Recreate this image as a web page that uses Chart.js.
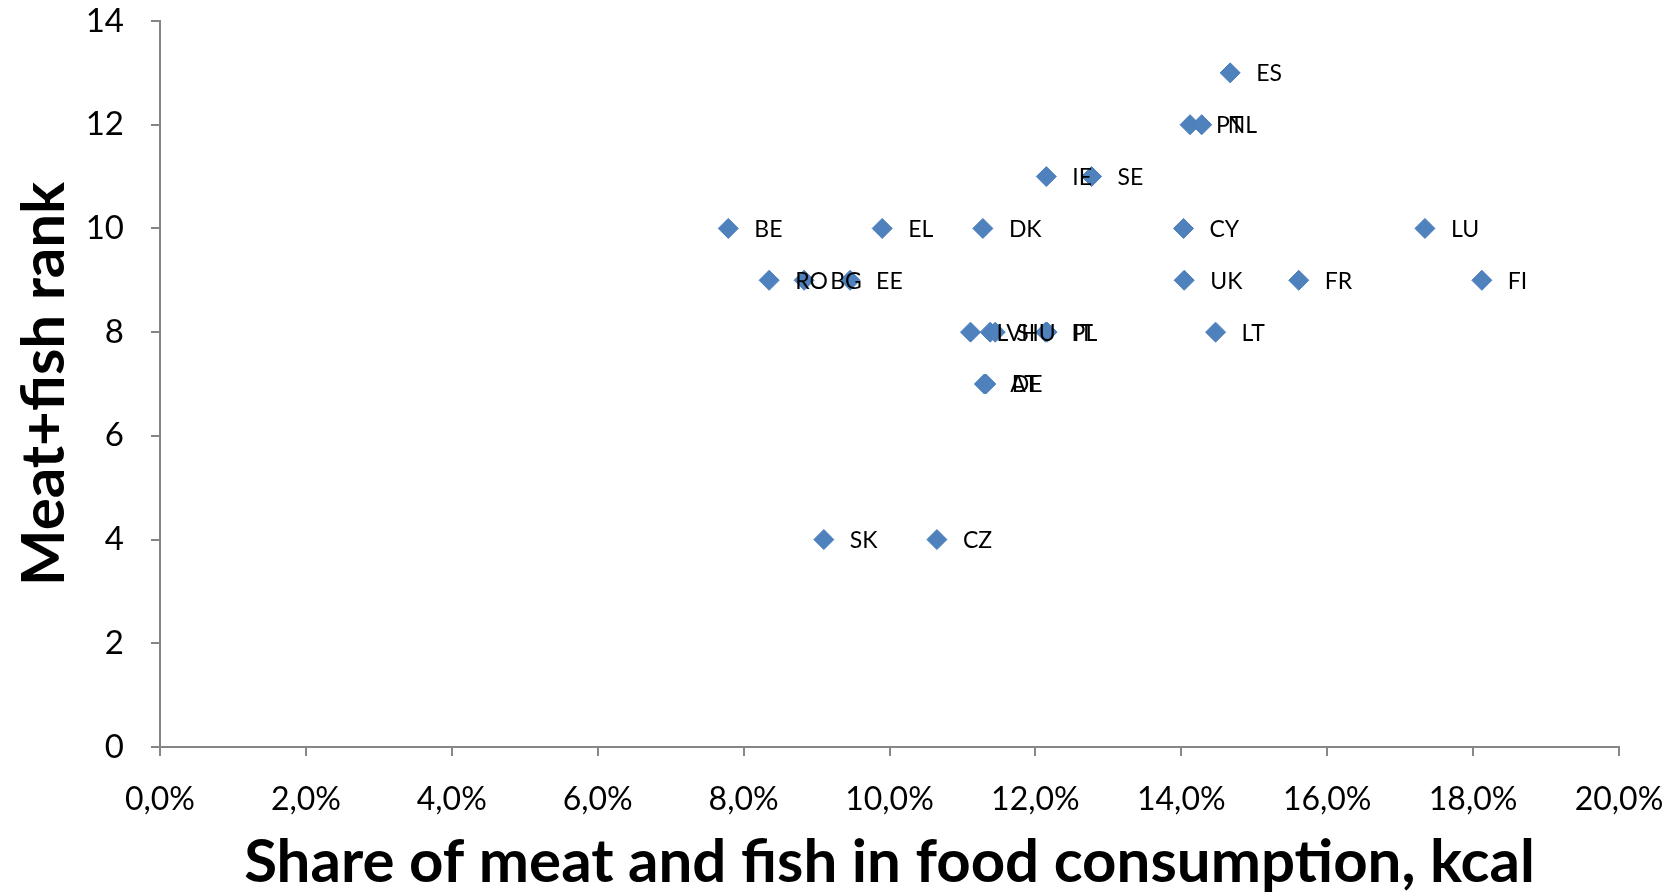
<!DOCTYPE html>
<html>
<head>
<meta charset="utf-8">
<script src="https://cdn.jsdelivr.net/npm/chart.js@4/dist/chart.umd.min.js"></script>
<style>
  html, body { margin: 0; padding: 0; background: #fff; }
  #wrap { width: 1679px; height: 896px; }
</style>
</head>
<body>
<div id="wrap"><canvas id="chart" width="1679" height="896"></canvas></div>
<script>
// Country codes, share of meat+fish in kcal (fraction) and rank
const countries = ['ES', 'PT', 'NL', 'IE', 'SE', 'BE', 'EL', 'DK', 'CY', 'LU',
  'RO', 'BG', 'EE', 'UK', 'FR', 'FI', 'LV', 'SI', 'HU', 'PL', 'IT', 'LT',
  'AT', 'DE', 'SK', 'CZ'];
const shares = [0.1467, 0.1412, 0.1428, 0.1215, 0.1277, 0.0779, 0.0990, 0.1128, 0.1403, 0.1734,
  0.0835, 0.0883, 0.0946, 0.1404, 0.1561, 0.1812, 0.1111, 0.1138, 0.1145, 0.1214, 0.1216, 0.1447,
  0.1130, 0.1132, 0.0910, 0.1065];
const ranks = [13, 12, 12, 11, 11, 10, 10, 10, 10, 10,
  9, 9, 9, 9, 9, 9, 8, 8, 8, 8, 8, 8,
  7, 7, 4, 4];

const xTicks = [0, 0.02, 0.04, 0.06, 0.08, 0.10, 0.12, 0.14, 0.16, 0.18, 0.20];

const AXIS_COLOR = '#868686';
const MARKER_COLOR = '#4F81BD';

// draws the country code to the right of each marker
const pointLabels = {
  id: 'pointLabels',
  afterDatasetsDraw(chart) {
    const ctx = chart.ctx;
    const meta = chart.getDatasetMeta(0);
    ctx.save();
    ctx.font = '23px Lato';
    ctx.fillStyle = '#000';
    ctx.textAlign = 'left';
    ctx.textBaseline = 'middle';
    meta.data.forEach(function (el, i) {
      ctx.fillText(countries[i], el.x + 26, el.y + 1);
    });
    ctx.restore();
  },
};

new Chart(document.getElementById('chart'), {
  type: 'scatter',
  data: {
    datasets: [{
      data: shares.map(function (s, i) { return { x: s, y: ranks[i] }; }),
      pointStyle: 'rectRot',
      pointRadius: 10,
      pointHoverRadius: 10,
      backgroundColor: MARKER_COLOR,
      borderColor: '#4A7EBB',
      borderWidth: 1,
    }],
  },
  plugins: [pointLabels],
  options: {
    responsive: false,
    animation: false,
    layout: { padding: { left: 0, right: 60, top: 21, bottom: 0 } },
    plugins: {
      legend: { display: false },
      tooltip: { enabled: false },
    },
    scales: {
      x: {
        type: 'linear',
        min: 0,
        max: 0.20,
        afterBuildTicks: function (scale) {
          scale.ticks = xTicks.map(function (v) { return { value: v }; });
        },
        afterFit: function (scale) {
          scale.height = 149;
          // label overflow is handled by the layout padding
          scale.paddingLeft = 0;
          scale.paddingRight = 0;
        },
        border: { color: AXIS_COLOR, width: 2 },
        grid: { drawOnChartArea: false, drawTicks: true, tickLength: 9, color: AXIS_COLOR, lineWidth: 2 },
        ticks: {
          color: '#000',
          font: { family: 'Lato', size: 32 },
          padding: 24,
          maxRotation: 0,
          autoSkip: false,
          callback: function (v) { return (v * 100).toFixed(1).replace('.', ',') + '%'; },
        },
        title: {
          display: true,
          text: 'Share of meat and fish in food consumption, kcal',
          color: '#000',
          font: { family: 'Lato', size: 60, weight: 'bold', lineHeight: 1.1 },
          padding: { top: 0, bottom: 0 },
        },
      },
      y: {
        min: 0,
        max: 14,
        ticks: {
          stepSize: 2,
          color: '#000',
          font: { family: 'Lato', size: 33 },
          padding: 27,
        },
        afterFit: function (scale) {
          scale.width = 160;
          scale.paddingTop = 0;
          scale.paddingBottom = 0;
        },
        border: { color: AXIS_COLOR, width: 2 },
        grid: { drawOnChartArea: false, drawTicks: true, tickLength: 9, color: AXIS_COLOR, lineWidth: 2 },
        title: {
          display: true,
          text: 'Meat+fish rank',
          color: '#000',
          font: { family: 'Lato', size: 60, weight: 'bold', lineHeight: 1.1 },
          padding: { top: 12, bottom: 0 },
        },
      },
    },
  },
});
</script>
</body>
</html>
